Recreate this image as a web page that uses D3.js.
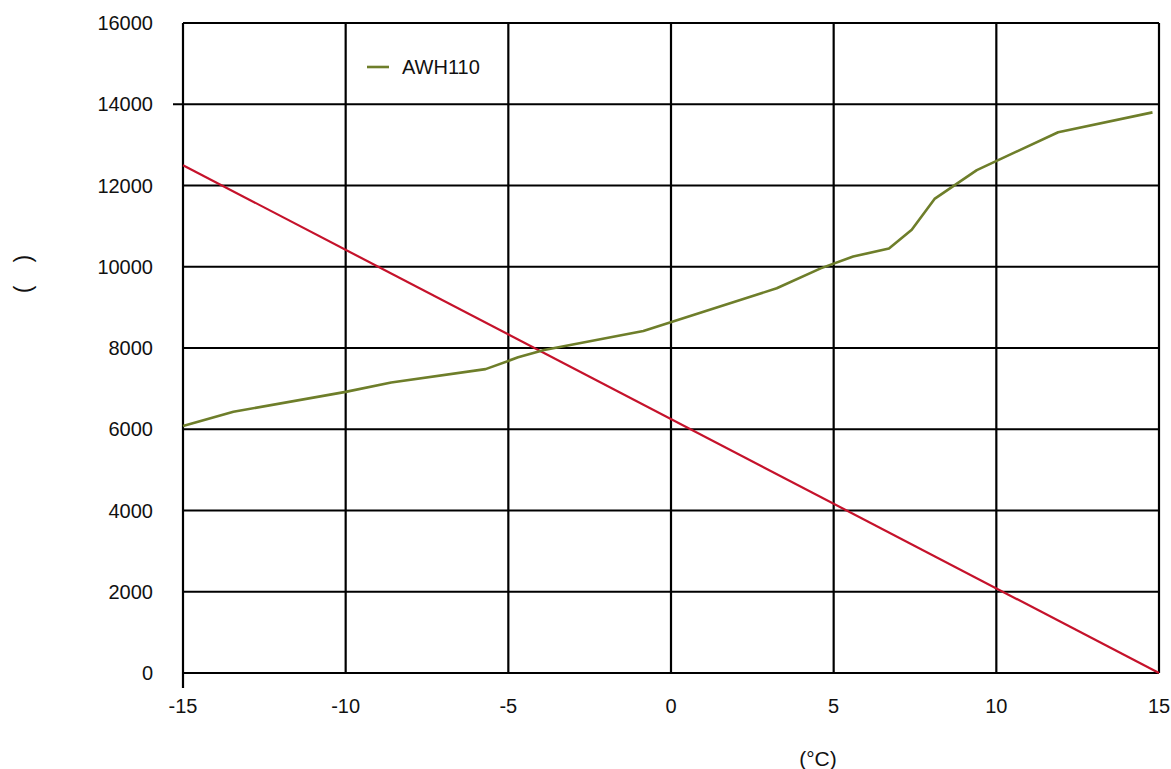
<!DOCTYPE html>
<html>
<head>
<meta charset="utf-8">
<script src="https://cdn.jsdelivr.net/npm/d3@7"></script>
<style>
  html, body { margin: 0; padding: 0; background: #fff; }
  svg { display: block; font-family: "Liberation Sans", Arial, sans-serif; }
</style>
</head>
<body>
<svg id="chart" width="1171" height="769"></svg>
<script>
// Outdoor temperature (°C) vs. heat output for AWH110, plus the building load line
const awhTemps  = [-15, -13.45, -10, -8.6, -5.7, -4.7, -3.9, -0.85, 3.25, 4.6, 5.6, 6.7, 7.4, 8.1, 9.4, 11.9, 14.8];
const awhValues = [6080, 6430, 6920, 7150, 7480, 7770, 7950, 8420, 9470, 9960, 10250, 10450, 10910, 11670, 12380, 13310, 13800];
const loadTemps  = [-15, 15];
const loadValues = [12500, 0];
const xTicks = [-15, -10, -5, 0, 5, 10, 15];
const yTicks = [0, 2000, 4000, 6000, 8000, 10000, 12000, 14000, 16000];
const seriesName = "AWH110";

const svg = d3.select("#chart");
const plotLeft = 183, plotRight = 1159, plotTop = 23, plotBottom = 673;

const x = d3.scaleLinear().domain([-15, 15]).range([plotLeft, plotRight]);
const y = d3.scaleLinear().domain([0, 16000]).range([plotBottom, plotTop]);

const grid = svg.append("g").attr("stroke", "#000").attr("stroke-width", 2.2);

// horizontal grid lines
grid.selectAll("line.h").data(yTicks).join("line")
  .attr("class", "h")
  .attr("x1", d => d === 14000 ? plotLeft - 10 : plotLeft)
  .attr("x2", plotRight)
  .attr("y1", d => y(d)).attr("y2", d => y(d));

// vertical grid lines
grid.selectAll("line.v").data(xTicks).join("line")
  .attr("class", "v")
  .attr("x1", d => x(d)).attr("x2", d => x(d))
  .attr("y1", plotTop)
  .attr("y2", d => d === -15 ? plotBottom + 15 : plotBottom);

// tick labels
svg.append("g").selectAll("text").data(yTicks).join("text")
  .attr("x", 153).attr("y", d => y(d))
  .attr("text-anchor", "end").attr("dominant-baseline", "central")
  .attr("font-size", 20).attr("fill", "#111")
  .text(d => d);

svg.append("g").selectAll("text").data(xTicks).join("text")
  .attr("x", d => x(d)).attr("y", 706)
  .attr("text-anchor", "middle").attr("dominant-baseline", "central")
  .attr("font-size", 20).attr("fill", "#111")
  .text(d => d);

// axis titles
svg.append("text")
  .attr("x", 818).attr("y", 758)
  .attr("text-anchor", "middle").attr("dominant-baseline", "central")
  .attr("font-size", 21).attr("fill", "#111")
  .text("(°C)");

svg.append("text")
  .attr("transform", "translate(23,274) rotate(-90)")
  .attr("text-anchor", "middle").attr("dominant-baseline", "central")
  .attr("font-size", 23).attr("fill", "#111")
  .text("(\u2003)");

const line = d3.line().x(d => x(d[0])).y(d => y(d[1]));

// load line
svg.append("path")
  .datum(loadTemps.map((t, i) => [t, loadValues[i]]))
  .attr("d", line)
  .attr("fill", "none").attr("stroke", "#c5122b").attr("stroke-width", 2.2);

// AWH110 output curve
svg.append("path")
  .datum(awhTemps.map((t, i) => [t, awhValues[i]]))
  .attr("d", line)
  .attr("fill", "none").attr("stroke", "#6e7e2a").attr("stroke-width", 2.6)
  .attr("stroke-linejoin", "round");

// legend
const lg = svg.append("g");
lg.append("line")
  .attr("x1", 367).attr("x2", 389).attr("y1", 67).attr("y2", 67)
  .attr("stroke", "#6e7e2a").attr("stroke-width", 2.6);
lg.append("text")
  .attr("x", 402).attr("y", 67)
  .attr("dominant-baseline", "central")
  .attr("font-size", 20).attr("fill", "#111")
  .text(seriesName);
</script>
</body>
</html>
